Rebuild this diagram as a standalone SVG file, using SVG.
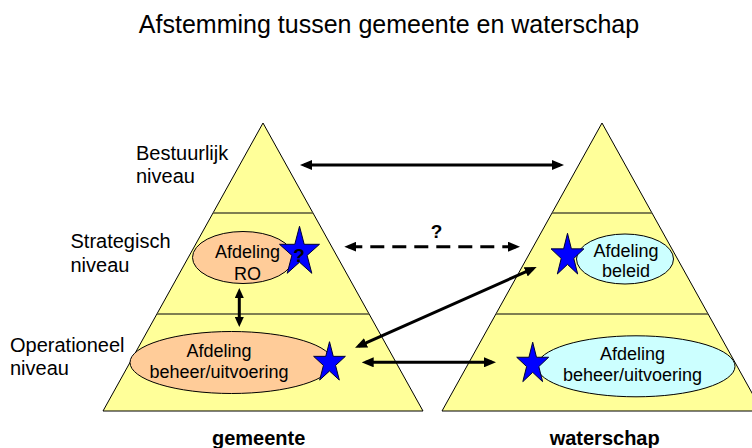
<svg xmlns="http://www.w3.org/2000/svg" width="752" height="448" viewBox="0 0 752 448">
<style>
  text { font-family: "Liberation Sans", Arial, sans-serif; fill: #000; }
  .title { font-size: 25px; }
  .lvl { font-size: 20px; }
  .et { font-size: 18px; text-anchor: middle; }
  .bold { font-size: 20px; font-weight: bold; text-anchor: middle; }
  .q { font-size: 19px; font-weight: bold; text-anchor: middle; }
  .pyr { fill: #FFFF99; stroke: #000; stroke-width: 1; }
  .band { stroke: #55553a; stroke-width: 1.3; fill: none; }
  .gem { fill: #FFCC99; stroke: #000; stroke-width: 1; }
  .ws { fill: #CCFFFF; stroke: #000; stroke-width: 1; }
  .star { fill: #0000FF; stroke: #000033; stroke-width: 1; }
  .conn { stroke: #000; stroke-width: 3; fill: none; }
  .dash { stroke-dasharray: 14 8; }
</style>
<defs>
  <marker id="ah" markerUnits="userSpaceOnUse" markerWidth="12" markerHeight="10" refX="8" refY="5" orient="auto-start-reverse">
    <path d="M0,0 L12,5 L0,10 z" fill="#000"/>
  </marker>
  <marker id="ahs" markerUnits="userSpaceOnUse" markerWidth="10" markerHeight="9" refX="6" refY="4.5" orient="auto-start-reverse">
    <path d="M0,0 L10,4.5 L0,9 z" fill="#000"/>
  </marker>
</defs>

<text class="title" x="389" y="33" text-anchor="middle">Afstemming tussen gemeente en waterschap</text>

<g id="gemeente">
  <polygon class="pyr" points="263,123 103,411 423,411"/>
  <line class="band" x1="213" y1="213" x2="313" y2="213"/>
  <line class="band" x1="157" y1="314" x2="369" y2="314"/>
  <text class="bold" x="258.7" y="445">gemeente</text>
</g>

<g id="waterschap">
  <polygon class="pyr" points="602,123 442,411 762,411"/>
  <line class="band" x1="552" y1="213" x2="652" y2="213"/>
  <line class="band" x1="496" y1="314" x2="708" y2="314"/>
  <text class="bold" x="604.7" y="445">waterschap</text>
</g>

<g id="labels">
  <text class="lvl" x="136" y="160">Bestuurlijk</text>
  <text class="lvl" x="136" y="183">niveau</text>
  <text class="lvl" x="70.5" y="248">Strategisch</text>
  <text class="lvl" x="70.5" y="271.5">niveau</text>
  <text class="lvl" x="10" y="351.5">Operationeel</text>
  <text class="lvl" x="10" y="375">niveau</text>
</g>

<g id="gem-ro">
  <ellipse class="gem" cx="243" cy="257.5" rx="50.5" ry="26"/>
  <text class="et" x="247.5" y="258.3">Afdeling</text>
  <text class="et" x="247.5" y="280">RO</text>
  <polygon class="star" points="299.5,226.3 304.2,244.3 319.5,244.3 307.1,255.4 311.8,273.3 299.5,262.2 287.2,273.3 291.9,255.4 279.5,244.3 294.8,244.3"/>
  <text class="q" x="299" y="261.7">?</text>
</g>

<g id="gem-beheer">
  <ellipse class="gem" cx="231.5" cy="362.5" rx="101.5" ry="31"/>
  <text class="et" x="219" y="356.7">Afdeling</text>
  <text class="et" x="219" y="378.3">beheer/uitvoering</text>
  <polygon class="star" points="329.5,341.7 333.25,356.35 345.38,356.35 335.56,365.4 339.32,380.05 329.5,371 319.68,380.05 323.44,365.4 313.62,356.35 325.75,356.35"/>
</g>

<g id="ws-beleid">
  <ellipse class="ws" cx="625" cy="259" rx="48.5" ry="25"/>
  <text class="et" x="626" y="256.7">Afdeling</text>
  <text class="et" x="626" y="277">beleid</text>
  <polygon class="star" points="567.5,233.3 571.38,248.85 583.95,248.85 573.78,258.46 577.67,274 567.5,264.4 557.33,274 561.22,258.46 551.05,248.85 563.62,248.85"/>
</g>

<g id="ws-beheer">
  <ellipse class="ws" cx="636" cy="366.3" rx="99" ry="30.5"/>
  <text class="et" x="632.5" y="360">Afdeling</text>
  <text class="et" x="632.5" y="380.7">beheer/uitvoering</text>
  <polygon class="star" points="532.7,342.2 536.47,357.26 548.68,357.26 538.8,366.57 542.58,381.64 532.7,372.33 522.82,381.64 526.6,366.57 516.72,357.26 528.93,357.26"/>
</g>

<g id="connectors">
  <line class="conn" x1="304" y1="165" x2="560" y2="165" marker-start="url(#ah)" marker-end="url(#ah)"/>
  <line class="conn dash" x1="348.3" y1="246.7" x2="516" y2="246.7" marker-start="url(#ah)" marker-end="url(#ah)"/>
  <text class="q" x="436.5" y="238">?</text>
  <line class="conn" x1="358.7" y1="346.1" x2="533" y2="268.6" marker-start="url(#ah)" marker-end="url(#ah)"/>
  <line class="conn" x1="365.7" y1="362.3" x2="492" y2="362.3" marker-start="url(#ah)" marker-end="url(#ah)"/>
  <line class="conn" x1="239.3" y1="292" x2="239.3" y2="323" marker-start="url(#ahs)" marker-end="url(#ahs)"/>
</g>
</svg>
